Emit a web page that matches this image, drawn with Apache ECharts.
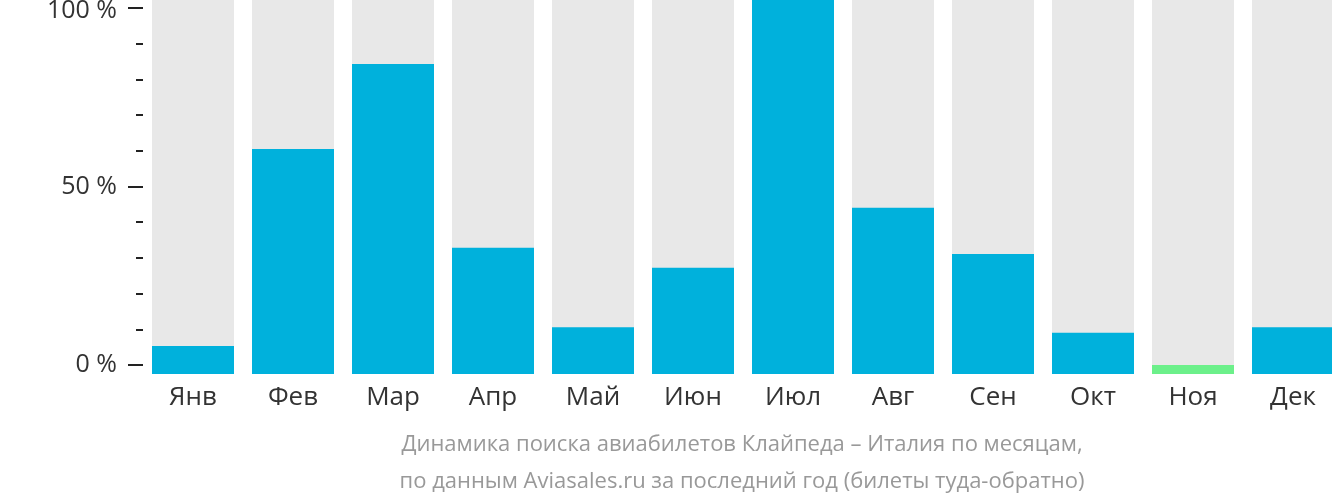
<!DOCTYPE html>
<html><head><meta charset="utf-8">
<script src="https://cdn.jsdelivr.net/npm/echarts@6/dist/echarts.min.js"></script>
<style>html,body{margin:0;padding:0;background:#fff}#c{width:1332px;height:502px}</style>
</head><body><div id="c"></div>
<script>
const categories = ['Янв','Фев','Мар','Апр','Май','Июн','Июл','Авг','Сен','Окт','Ноя','Дек'];
const values = [5.3, 60.5, 84.3, 32.8, 10.6, 27.2, 102.2, 44.0, 31.1, 9.0, 0, 10.6];
const highlightIndex = 10; // lowest month shown in green
const majorTicks = [0, 50, 100];
const minorTicks = [10, 20, 30, 40, 60, 70, 80, 90];
const subtitleLines = ['Динамика поиска авиабилетов Клайпеда – Италия по месяцам,', 'по данным Aviasales.ru за последний год (билеты туда-обратно)'];

const BASE = 2.52;           // bars begin slightly below the 0 % line
const TOP = 102.2;
const FONT = '"Open Sans", "Noto Sans", sans-serif';

const chart = echarts.init(document.getElementById('c'), null, {renderer: 'canvas'});
const yCommon = {
  type: 'value', min: 0, max: TOP + BASE, position: 'left',
  splitLine: {show: false}, axisLine: {show: false}
};
chart.setOption({
  animation: false,
  grid: {left: 143, right: -11, top: 0, bottom: 128, containLabel: false, outerBoundsMode: 'none'},
  xAxis: {
    type: 'category', data: categories,
    axisLine: {show: false}, axisTick: {show: false},
    axisLabel: {color: '#333', fontSize: 26, fontFamily: FONT, margin: 11, interval: 0}
  },
  yAxis: [
    Object.assign({}, yCommon, {
      axisTick: {show: true, length: 15, lineStyle: {color: '#222', width: 2}, customValues: majorTicks.map(v => v + BASE)},
      axisLabel: {show: true, color: '#333', fontSize: 25, fontFamily: FONT, margin: 26,
        customValues: majorTicks.map(v => v + BASE),
        formatter: v => {
          const n = Math.round(v - BASE);
          return n === majorTicks[majorTicks.length - 1] ? '{t|' + n + ' %}' : n + ' %';
        },
        rich: {t: {fontSize: 25, fontFamily: FONT, color: '#333', padding: [7, 0, 0, 0]}}
      }
    }),
    Object.assign({}, yCommon, {
      axisTick: {show: true, length: 7, lineStyle: {color: '#222', width: 2}, customValues: minorTicks.map(v => v + BASE)},
      axisLabel: {show: false}
    })
  ],
  series: [{
    type: 'bar', yAxisIndex: 0, barWidth: 82,
    showBackground: true, backgroundStyle: {color: '#e8e8e8'},
    data: values.map((v, i) => ({
      value: v + BASE,
      itemStyle: {color: i === highlightIndex ? '#6cf08a' : '#00b1dc'}
    }))
  }],
  graphic: subtitleLines.map((t, i) => ({
    type: 'text', x: 742, y: 445 + i * 37,
    style: {text: t, align: 'center', verticalAlign: 'middle', fill: '#999', fontSize: 22, fontFamily: FONT},
  }))
});
</script></body></html>
